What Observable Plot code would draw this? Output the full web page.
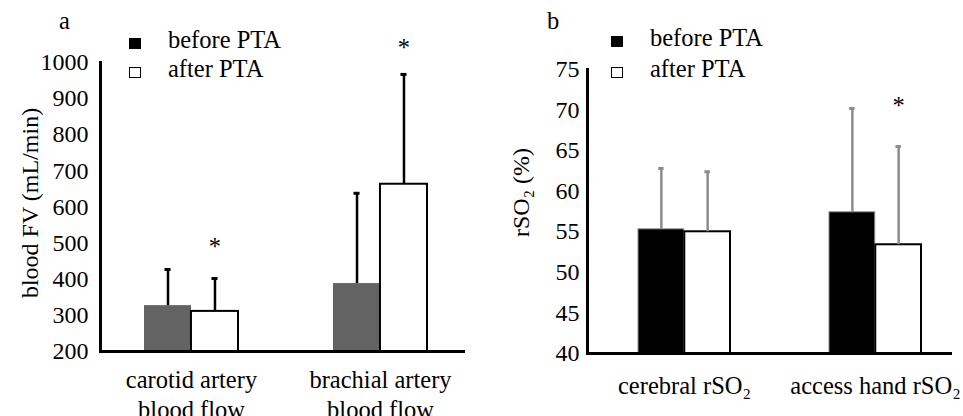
<!DOCTYPE html>
<html><head><meta charset="utf-8">
<script src="https://cdn.jsdelivr.net/npm/d3@7"></script>
<script src="https://cdn.jsdelivr.net/npm/@observablehq/plot@0.6"></script>
<style>
body{margin:0;background:#fff;font-family:"Liberation Serif","Times New Roman","DejaVu Serif",serif;}
#wrap{position:relative;width:963px;height:416px;display:flex;overflow:hidden;}
#wrap svg text{font-family:"Liberation Serif","Times New Roman","DejaVu Serif",serif !important;}
.lbl{position:absolute;font-size:24.5px;line-height:1;color:#000;white-space:nowrap;font-family:"Liberation Serif","Times New Roman","DejaVu Serif",serif;}
.sw{position:absolute;box-sizing:border-box;}
</style></head><body>
<div id="wrap"></div>
<script>
// ---------- data ----------
const series = ["before PTA", "after PTA"];
const panelLetters = ["a", "b"];

// Panel a: blood flow volume
const categoriesA = ["carotid artery\nblood flow", "brachial artery\nblood flow"];
const beforeA = [327, 388];
const beforeSdA = [100, 250];
const afterA = [311, 663];
const afterSdA = [91, 304];
const ticksA = [200, 300, 400, 500, 600, 700, 800, 900, 1000];
const titleA = "blood FV (mL/min)";
const starsA = [{category: categoriesA[0], y: 490}, {category: categoriesA[1], y: 1040}];

// Panel b: rSO2
const categoriesB = ["cerebral rSO₂", "access hand rSO₂"];
const beforeB = [55.3, 57.4];
const beforeSdB = [7.5, 12.8];
const afterB = [55.0, 53.4];
const afterSdB = [7.4, 12.1];
const ticksB = [40, 45, 50, 55, 60, 65, 70, 75];
const titleB = "rSO₂ (%)";
const starsB = [{category: categoriesB[1], y: 70.5}];

const FONT = '"Liberation Serif","Times New Roman","DejaVu Serif",serif';

// ---------- helpers ----------
function rows(cats, vals, sds) {
  return cats.map((c, i) => ({category: c, value: vals[i], sd: sds[i]}));
}

function panel(cfg) {
  const band = d3.scaleBand(cfg.categories, cfg.range)
    .paddingInner(cfg.paddingInner).paddingOuter(cfg.paddingOuter);
  const bw = band.bandwidth();
  const before = rows(cfg.categories, cfg.before, cfg.beforeSd);
  const after = rows(cfg.categories, cfg.after, cfg.afterSd);
  const y0 = cfg.yDomain[0];
  const capInset = (bw - 6) / 2;
  return Plot.plot({
    width: cfg.width,
    height: 416,
    marginLeft: cfg.marginLeft,
    marginRight: cfg.marginRight,
    marginTop: cfg.marginTop,
    marginBottom: cfg.marginBottom,
    style: {fontFamily: FONT, fontSize: "24px", background: "white", color: "black", overflow: "visible"},
    x: {domain: cfg.categories, range: cfg.range, paddingInner: cfg.paddingInner, paddingOuter: cfg.paddingOuter},
    y: {domain: cfg.yDomain},
    marks: [
      Plot.barY(before, {x: "category", y1: y0, y2: "value", fill: cfg.beforeFill, stroke: cfg.beforeStroke, strokeWidth: 1, insetRight: bw / 2}),
      Plot.barY(after, {x: "category", y1: y0, y2: "value", fill: "white", stroke: "black", strokeWidth: 2, insetLeft: bw / 2}),
      Plot.ruleX(before, {x: "category", y1: "value", y2: d => d.value + d.sd, dx: -bw / 4, stroke: cfg.errColor, strokeWidth: 2.5}),
      Plot.ruleX(after, {x: "category", y1: "value", y2: d => d.value + d.sd, dx: bw / 4, stroke: cfg.errColor, strokeWidth: 2.5}),
      Plot.tickY(before, {x: "category", y: d => d.value + d.sd, dx: -bw / 4, insetLeft: capInset, insetRight: capInset, stroke: cfg.errColor, strokeWidth: 3}),
      Plot.tickY(after, {x: "category", y: d => d.value + d.sd, dx: bw / 4, insetLeft: capInset, insetRight: capInset, stroke: cfg.errColor, strokeWidth: 3}),
      Plot.text(cfg.stars, {x: "category", y: "y", text: () => "*", dx: bw / 4, fontSize: 24.5, fontFamily: FONT, fill: "black"}),
      Plot.axisY({ticks: cfg.ticks, tickFormat: d3.format("d"), tickSize: 0, tickPadding: cfg.tickPaddingY, label: null, fontSize: 24, fontFamily: FONT, fontVariant: "normal"}),
      Plot.axisX({tickSize: 0, tickPadding: cfg.tickPaddingX, label: null, fontSize: 24.5, fontFamily: FONT, lineHeight: 1.2}),
      Plot.text([cfg.title], {text: d => d, frameAnchor: "left", textAnchor: "middle", lineAnchor: "middle", rotate: -90, dx: cfg.titleDx, dy: cfg.titleDy, fontSize: 24, fontFamily: FONT}),
      Plot.ruleY([y0], {stroke: "black", strokeWidth: 3}),
      Plot.frame({anchor: "left", stroke: "black", strokeWidth: 3})
    ]
  });
}

const wrap = document.getElementById("wrap");
wrap.appendChild(panel({
  width: 481, marginLeft: 100, marginRight: 16, marginTop: 62, marginBottom: 65,
  categories: categoriesA, range: [96, 474], paddingInner: 0.504, paddingOuter: 0.25,
  before: beforeA, beforeSd: beforeSdA, after: afterA, afterSd: afterSdA,
  yDomain: [200, 1000], ticks: ticksA, title: titleA, stars: starsA,
  beforeFill: "#636363", beforeStroke: "none", errColor: "black",
  tickPaddingY: 12, tickPaddingX: 16, titleDx: -70, titleDy: -4
}));
wrap.appendChild(panel({
  width: 482, marginLeft: 106, marginRight: 11, marginTop: 69, marginBottom: 63,
  categories: categoriesB, range: [109, 489], paddingInner: 0.517, paddingOuter: 0.25,
  before: beforeB, beforeSd: beforeSdB, after: afterB, afterSd: afterSdB,
  yDomain: [40, 75], ticks: ticksB, title: titleB, stars: starsB,
  beforeFill: "black", beforeStroke: "#888", errColor: "#8c8c8c",
  tickPaddingY: 8, tickPaddingX: 20, titleDx: -66, titleDy: -19
}));

// ---------- panel letters and legends ----------
function addText(txt, left, top) {
  const d = document.createElement("div");
  d.className = "lbl"; d.textContent = txt;
  d.style.left = left + "px"; d.style.top = top + "px";
  wrap.appendChild(d);
}
function addSwatch(left, top, filled) {
  const d = document.createElement("div");
  d.className = "sw";
  d.style.left = left + "px"; d.style.top = top + "px";
  d.style.width = "12px"; d.style.height = "11px";
  d.style.background = filled ? "black" : "white";
  d.style.border = "1.5px solid black";
  wrap.appendChild(d);
}
const legendPos = [{letterX: 59}, {letterX: 547}];
legendPos.forEach((p, i) => {
  addText(panelLetters[i], p.letterX, 9);
  const sx = i === 0 ? 129 : 611;
  const tx = i === 0 ? 168 : 650;
  const ty = i === 0 ? 28 : 26;
  addSwatch(sx, i === 0 ? 38 : 36, true);
  addText(series[0], tx, ty);
  addSwatch(sx, 67, false);
  addText(series[1], tx, 57);
});
</script>
</body></html>
